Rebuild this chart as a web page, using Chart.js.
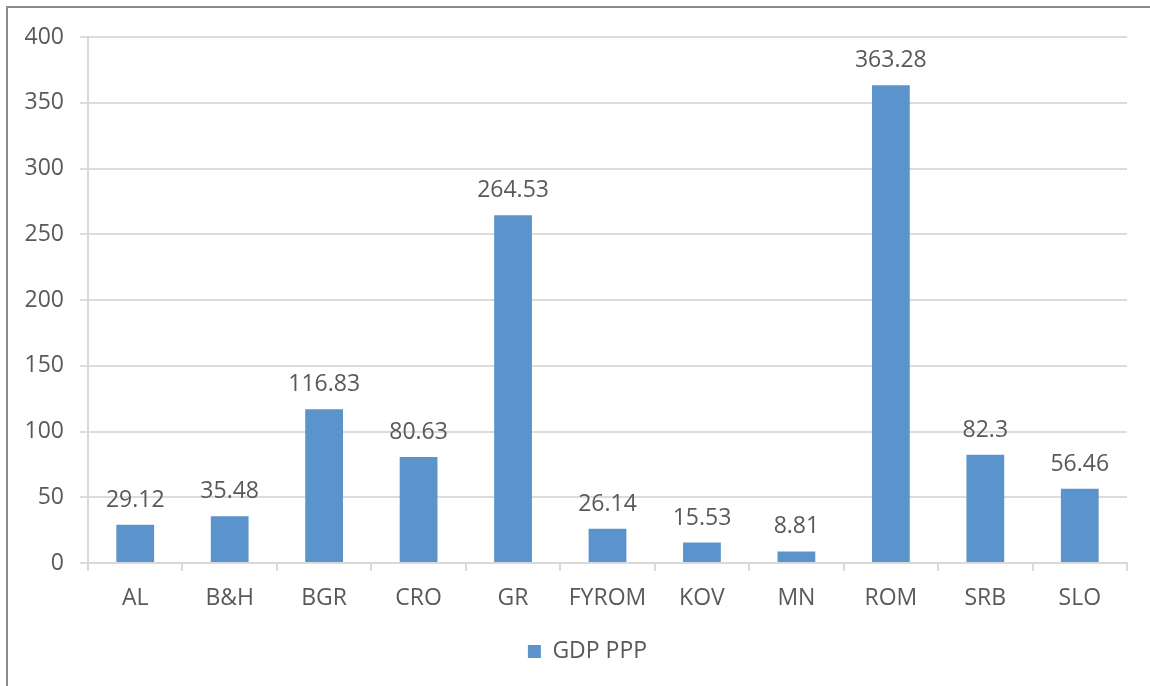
<!DOCTYPE html>
<html>
<head>
<meta charset="utf-8">
<script src="https://cdn.jsdelivr.net/npm/chart.js@4.4.0/dist/chart.umd.min.js"></script>
<style>
  html, body { margin: 0; padding: 0; background: #fff; overflow: hidden; }
  #frame {
    position: absolute; left: 6px; top: 6px; width: 1200px; height: 720px;
    border: 2px solid #8c8c8c;
  }
  #wrap { position: absolute; left: 0; top: 0; width: 1150px; height: 686px; }
</style>
</head>
<body>
<div id="frame"></div>
<div id="wrap"><canvas id="chart" width="1150" height="686"></canvas></div>
<script>
// data
var countries = ["AL", "B&H", "BGR", "CRO", "GR", "FYROM", "KOV", "MN", "ROM", "SRB", "SLO"];
var gdpPPP = [29.12, 35.48, 116.83, 80.63, 264.53, 26.14, 15.53, 8.81, 363.28, 82.3, 56.46];
var yTicks = [0, 50, 100, 150, 200, 250, 300, 350, 400];

var textColor = "#595959";
var fontFamily = "'Open Sans', sans-serif";
var fontSize = 23;

// value labels above each bar
var valueLabels = {
  id: "valueLabels",
  afterDatasetsDraw: function(chart) {
    var ctx = chart.ctx;
    var meta = chart.getDatasetMeta(0);
    ctx.save();
    ctx.font = fontSize + "px " + fontFamily;
    ctx.fillStyle = textColor;
    ctx.textAlign = "center";
    ctx.textBaseline = "alphabetic";
    meta.data.forEach(function(bar, i) {
      ctx.fillText(String(gdpPPP[i]), bar.x, bar.y - 18);
    });
    ctx.restore();
  }
};

// legend in the original sits a bit right of the canvas centre
var legendShift = {
  id: "legendShift",
  afterLayout: function(chart) {
    if (chart.legend) {
      chart.legend.left += 24;
      chart.legend.right += 24;
    }
  }
};

Chart.defaults.font.family = fontFamily;
Chart.defaults.color = textColor;

var chart = new Chart(document.getElementById("chart"), {
  type: "bar",
  data: {
    labels: countries,
    datasets: [{
      label: "GDP PPP",
      data: gdpPPP,
      backgroundColor: "#5b93cd",
      borderWidth: 0,
      barPercentage: 0.4,
      categoryPercentage: 1.0
    }]
  },
  options: {
    responsive: false,
    animation: false,
    layout: { padding: { left: 0, right: 23, top: 37, bottom: 13 } },
    plugins: {
      tooltip: { enabled: false },
      legend: {
        position: "bottom",
        labels: {
          boxWidth: 13,
          boxHeight: 13,
          padding: 10,
          font: { size: fontSize },
          color: textColor
        }
      }
    },
    scales: {
      x: {
        grid: {
          drawOnChartArea: false,
          drawTicks: true,
          tickLength: 8,
          color: "#d9d9d9",
          lineWidth: 2
        },
        border: { color: "#d9d9d9", width: 2 },
        ticks: { padding: 14, font: { size: fontSize }, color: textColor, maxRotation: 0 },
        afterFit: function(scale) { scale.height = 67; }
      },
      y: {
        min: 0,
        max: 400,
        afterBuildTicks: function(scale) {
          scale.ticks = yTicks.map(function(v) { return { value: v }; });
        },
        grid: {
          tickLength: 8,
          color: "#dcdcdc",
          lineWidth: 2
        },
        border: { color: "#d9d9d9", width: 2 },
        ticks: { padding: 16, font: { size: fontSize }, color: textColor },
        afterFit: function(scale) { scale.width = 88; }
      }
    }
  },
  plugins: [valueLabels, legendShift]
});
</script>
</body>
</html>
